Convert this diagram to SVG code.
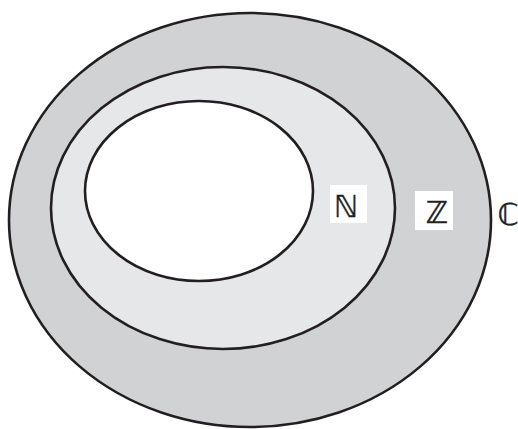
<svg xmlns="http://www.w3.org/2000/svg" width="518" height="429" viewBox="0 0 518 429">
<style>
.set{stroke:#231f20;stroke-width:2.6}
.lbl{font-family:"DejaVu Sans",sans-serif;font-size:30px;fill:#231f20;stroke:#231f20;stroke-width:0.4;text-anchor:middle}
.box{fill:#ffffff}
</style>
<rect width="518" height="429" fill="#ffffff"/>
<g id="set-outer"><ellipse class="set" cx="250" cy="220" rx="241" ry="207" fill="#d1d2d4"/></g>
<g id="set-middle"><ellipse class="set" cx="223" cy="208" rx="172" ry="141" fill="#e6e7e8"/></g>
<g id="set-inner"><ellipse class="set" cx="199" cy="191" rx="114" ry="90" fill="#ffffff"/></g>
<g id="label-N"><rect class="box" x="330" y="185" width="37" height="38"/><text class="lbl" x="346" y="217">ℕ</text></g>
<g id="label-Z"><rect class="box" x="415" y="191" width="38" height="39"/><text class="lbl" x="437" y="223">ℤ</text></g>
<g id="label-C"><text class="lbl" x="508" y="225">ℂ</text></g>
</svg>
